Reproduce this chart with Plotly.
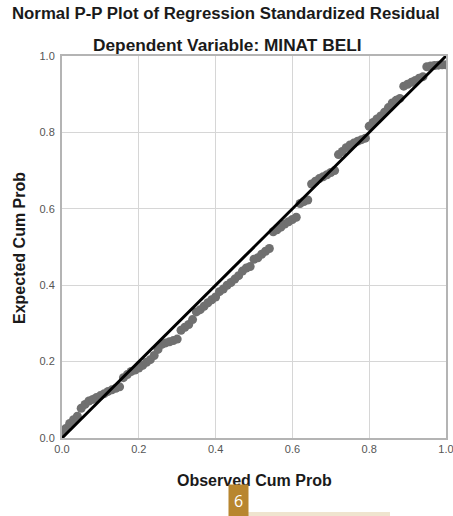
import plotly.graph_objects as go

observed = [0.00, 0.01, 0.02, 0.03, 0.04, 0.05, 0.06, 0.07, 0.08, 0.09, 0.10,
            0.11, 0.12, 0.13, 0.14, 0.15, 0.16, 0.17, 0.18, 0.19, 0.20,
            0.21, 0.22, 0.23, 0.24, 0.25, 0.26, 0.27, 0.28, 0.29, 0.30,
            0.31, 0.32, 0.33, 0.34, 0.35, 0.36, 0.37, 0.38, 0.39, 0.40,
            0.41, 0.42, 0.43, 0.44, 0.45, 0.46, 0.47, 0.48, 0.49, 0.50,
            0.51, 0.52, 0.53, 0.54, 0.55, 0.56, 0.57, 0.58, 0.59, 0.60,
            0.61, 0.62, 0.63, 0.64, 0.65, 0.66, 0.67, 0.68, 0.69, 0.70,
            0.71, 0.72, 0.73, 0.74, 0.75, 0.76, 0.77, 0.78, 0.79, 0.80,
            0.81, 0.82, 0.83, 0.84, 0.85, 0.86, 0.87, 0.88, 0.89, 0.90,
            0.91, 0.92, 0.93, 0.94, 0.95, 0.96, 0.97, 0.98, 0.99, 1.00]
expected = [0.012, 0.025, 0.038, 0.048, 0.057, 0.078, 0.088, 0.097, 0.101, 0.106, 0.111,
            0.116, 0.122, 0.126, 0.130, 0.134, 0.158, 0.166, 0.174, 0.178, 0.183,
            0.190, 0.198, 0.205, 0.216, 0.232, 0.245, 0.249, 0.252, 0.255, 0.259,
            0.282, 0.290, 0.297, 0.310, 0.330, 0.336, 0.345, 0.354, 0.362, 0.369,
            0.383, 0.390, 0.400, 0.407, 0.416, 0.425, 0.437, 0.445, 0.449, 0.468,
            0.472, 0.481, 0.489, 0.496, 0.540, 0.545, 0.552, 0.560, 0.566, 0.572,
            0.578, 0.614, 0.619, 0.623, 0.665, 0.672, 0.679, 0.684, 0.689, 0.695,
            0.700, 0.742, 0.750, 0.760, 0.767, 0.772, 0.777, 0.781, 0.785, 0.816,
            0.826, 0.835, 0.843, 0.853, 0.865, 0.877, 0.884, 0.889, 0.921, 0.926,
            0.931, 0.936, 0.942, 0.946, 0.972, 0.974, 0.975, 0.976, 0.977, 0.977]

ref_line = [0.0, 1.0]
tick_vals = [0.0, 0.2, 0.4, 0.6, 0.8, 1.0]
tick_text = ["0.0", "0.2", "0.4", "0.6", "0.8", "1.0"]

font = "Liberation Sans, Arial, sans-serif"
PL, PR, PT, PB = 62, 446, 56, 438
PW, PH = PR - PL, PB - PT


def px(xp):
    return (xp - PL) / PW


def py(yp):
    return (PB - yp) / PH


fig = go.Figure()
fig.add_trace(go.Scatter(
    x=observed, y=expected, mode="markers",
    marker=dict(color="#707070", size=9, line=dict(width=0)),
    showlegend=False, hoverinfo="x+y"))
fig.add_trace(go.Scatter(
    x=ref_line, y=ref_line, mode="lines",
    line=dict(color="#000000", width=3),
    showlegend=False, hoverinfo="skip"))

axis_common = dict(
    range=[0, 1], tickvals=tick_vals, ticktext=tick_text,
    showgrid=True, gridcolor="#d6d6d6", gridwidth=1,
    showline=True, linecolor="#b4b4b4", linewidth=2, mirror=True,
    zeroline=False, ticks="", tickfont=dict(family=font, size=11, color="#555555"),
    fixedrange=True, automargin=False, ticklabeloverflow="allow",
)

fig.update_layout(
    width=453, height=516,
    margin=dict(l=PL, r=453 - PR, t=PT, b=516 - PB, autoexpand=False),
    paper_bgcolor="white", plot_bgcolor="white",
    font=dict(family=font),
    xaxis=dict(axis_common),
    yaxis=dict(axis_common, ticklabelstandoff=3),
    annotations=[
        dict(text="<b>Normal P-P Plot of Regression Standardized Residual</b>",
             xref="paper", yref="paper", x=px(226), y=py(14),
             xanchor="center", yanchor="middle", showarrow=False,
             font=dict(family=font, size=16.8, color="#1a1a1a")),
        dict(text="<b>Dependent Variable: MINAT BELI</b>", xref="paper", yref="paper",
             x=px(227), y=py(45), xanchor="center", yanchor="middle",
             showarrow=False, font=dict(family=font, size=17.3, color="#1a1a1a")),
        dict(text="<b>Observed Cum Prob</b>", xref="paper", yref="paper",
             x=px(254), y=py(481), xanchor="center", yanchor="middle",
             showarrow=False, font=dict(family=font, size=16, color="#1a1a1a")),
        dict(text="<b>Expected Cum Prob</b>", xref="paper", yref="paper",
             x=px(19), y=py(248), xanchor="center", yanchor="middle", textangle=-90,
             showarrow=False, font=dict(family=font, size=16, color="#1a1a1a")),
        dict(text="6", xref="paper", yref="paper",
             x=px(238), y=py(501), xanchor="center", yanchor="middle",
             showarrow=False, bgcolor="#b8862f", borderpad=5,
             font=dict(family="Open Sans, sans-serif", size=16, color="white")),
    ],
    shapes=[
        dict(type="rect", xref="paper", yref="paper",
             x0=px(230), x1=px(390), y0=py(516), y1=py(512),
             fillcolor="#efe4cf", line=dict(width=0), layer="below"),
    ],
)

fig.write_html(
    "out.html",
    config={"displayModeBar": False},
    post_script="document.body.style.margin='0';document.body.style.padding='0';",
)
